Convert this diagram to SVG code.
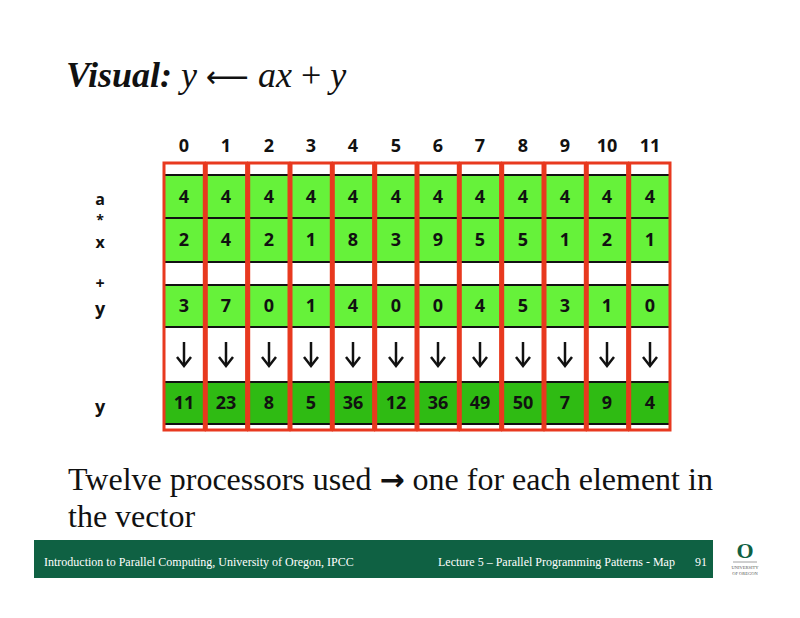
<svg xmlns="http://www.w3.org/2000/svg" width="800" height="618" viewBox="0 0 800 618">
<style>
.lg{fill:#66f23a}.dg{fill:#2fbb13}.wh{fill:#fff}
.hl{stroke:#111;stroke-width:2}
.col{fill:none;stroke:#e8391f;stroke-width:3}
.n{font-family:"Open Sans","DejaVu Sans",sans-serif;font-weight:bold;font-size:18px;text-anchor:middle;fill:#111}
.t{font-family:"Liberation Serif",serif;fill:#111}
.f{font-family:"Liberation Serif",serif;font-size:12px;fill:#fff}
</style>
<defs>
<g id="arr"><line x1="0" y1="-12" x2="0" y2="10" stroke="#111" stroke-width="2.5"/><path d="M-7,3 L0,12 L7,3" fill="none" stroke="#111" stroke-width="2.5"/></g>
</defs>
<rect width="800" height="618" fill="#fff"/>
<text class="t" x="66" y="87" font-size="36"><tspan font-weight="bold" font-style="italic">Visual:</tspan><tspan font-style="italic"> y </tspan><tspan font-family="DejaVu Sans" font-size="30">⟵</tspan><tspan font-style="italic"> ax</tspan><tspan> + </tspan><tspan font-style="italic">y</tspan></text>
<g id="rows">
<rect x="163" y="163" width="508" height="267" class="wh"/>
<rect x="163" y="175" width="508" height="87" class="lg"/>
<rect x="163" y="285" width="508" height="42" class="lg"/>
<rect x="163" y="382" width="508" height="42" class="dg"/>
<g class="hl">
<line x1="163" y1="175" x2="671" y2="175"/><line x1="163" y1="218" x2="671" y2="218"/>
<line x1="163" y1="262" x2="671" y2="262"/><line x1="163" y1="285" x2="671" y2="285"/>
<line x1="163" y1="327" x2="671" y2="327"/><line x1="163" y1="382" x2="671" y2="382"/>
<line x1="163" y1="424" x2="671" y2="424"/>
</g>
</g>
<g id="labels" class="n">
<text x="100" y="205" font-size="16">a</text><text x="100" y="225" font-size="14">*</text><text x="100" y="248" font-size="16">x</text>
<text x="100" y="289" font-size="16">+</text><text x="100" y="315">y</text><text x="100" y="413">y</text>
</g>
<g id="cols" class="n">
<text x="184" y="152">0</text><text x="226" y="152">1</text><text x="269" y="152">2</text><text x="311" y="152">3</text><text x="353" y="152">4</text><text x="396" y="152">5</text><text x="438" y="152">6</text><text x="480" y="152">7</text><text x="523" y="152">8</text><text x="565" y="152">9</text><text x="607" y="152">10</text><text x="650" y="152">11</text>
<g id="a"><text x="184" y="203">4</text><text x="226" y="203">4</text><text x="269" y="203">4</text><text x="311" y="203">4</text><text x="353" y="203">4</text><text x="396" y="203">4</text><text x="438" y="203">4</text><text x="480" y="203">4</text><text x="523" y="203">4</text><text x="565" y="203">4</text><text x="607" y="203">4</text><text x="650" y="203">4</text></g>
<g id="x"><text x="184" y="246">2</text><text x="226" y="246">4</text><text x="269" y="246">2</text><text x="311" y="246">1</text><text x="353" y="246">8</text><text x="396" y="246">3</text><text x="438" y="246">9</text><text x="480" y="246">5</text><text x="523" y="246">5</text><text x="565" y="246">1</text><text x="607" y="246">2</text><text x="650" y="246">1</text></g>
<g id="y"><text x="184" y="312">3</text><text x="226" y="312">7</text><text x="269" y="312">0</text><text x="311" y="312">1</text><text x="353" y="312">4</text><text x="396" y="312">0</text><text x="438" y="312">0</text><text x="480" y="312">4</text><text x="523" y="312">5</text><text x="565" y="312">3</text><text x="607" y="312">1</text><text x="650" y="312">0</text></g>
<g id="r"><text x="184" y="409">11</text><text x="226" y="409">23</text><text x="269" y="409">8</text><text x="311" y="409">5</text><text x="353" y="409">36</text><text x="396" y="409">12</text><text x="438" y="409">36</text><text x="480" y="409">49</text><text x="523" y="409">50</text><text x="565" y="409">7</text><text x="607" y="409">9</text><text x="650" y="409">4</text></g>
</g>
<g id="arrows">
<use href="#arr" x="184" y="354"/><use href="#arr" x="226" y="354"/><use href="#arr" x="269" y="354"/><use href="#arr" x="311" y="354"/><use href="#arr" x="353" y="354"/><use href="#arr" x="396" y="354"/><use href="#arr" x="438" y="354"/><use href="#arr" x="480" y="354"/><use href="#arr" x="523" y="354"/><use href="#arr" x="565" y="354"/><use href="#arr" x="607" y="354"/><use href="#arr" x="650" y="354"/>
</g>
<g id="colrects" class="col">
<rect x="164" y="163" width="40.3" height="267"/><rect x="206.3" y="163" width="40.3" height="267"/><rect x="248.7" y="163" width="40.3" height="267"/><rect x="291" y="163" width="40.3" height="267"/><rect x="333.3" y="163" width="40.3" height="267"/><rect x="375.7" y="163" width="40.3" height="267"/><rect x="418" y="163" width="40.3" height="267"/><rect x="460.3" y="163" width="40.3" height="267"/><rect x="502.7" y="163" width="40.3" height="267"/><rect x="545" y="163" width="40.3" height="267"/><rect x="587.3" y="163" width="40.3" height="267"/><rect x="629.7" y="163" width="40.3" height="267"/>
</g>
<text class="t" x="68" y="490" font-size="32">Twelve processors used <tspan font-family="DejaVu Sans" font-weight="bold" font-size="30">→</tspan> one for each element in</text>
<text class="t" x="68" y="527" font-size="32">the vector</text>
<g id="footer">
<rect x="34" y="540" width="679" height="38" fill="#0f6143"/>
<text class="f" x="44" y="566">Introduction to Parallel Computing, University of Oregon, IPCC</text>
<text class="f" x="438" y="566">Lecture 5 – Parallel Programming Patterns - Map</text>
<text class="f" x="707" y="566" text-anchor="end">91</text>
<text x="745" y="558" font-family="Liberation Serif,serif" font-weight="bold" font-size="22" fill="#0f6143" text-anchor="middle">O</text>
<line x1="733" y1="562" x2="757" y2="562" stroke="#888" stroke-width="0.8"/>
<text x="745" y="569" font-family="Liberation Serif,serif" font-size="4.5" fill="#555" text-anchor="middle">UNIVERSITY</text>
<text x="745" y="575" font-family="Liberation Serif,serif" font-size="4.5" fill="#555" text-anchor="middle">OF OREGON</text>
</g>
</svg>
